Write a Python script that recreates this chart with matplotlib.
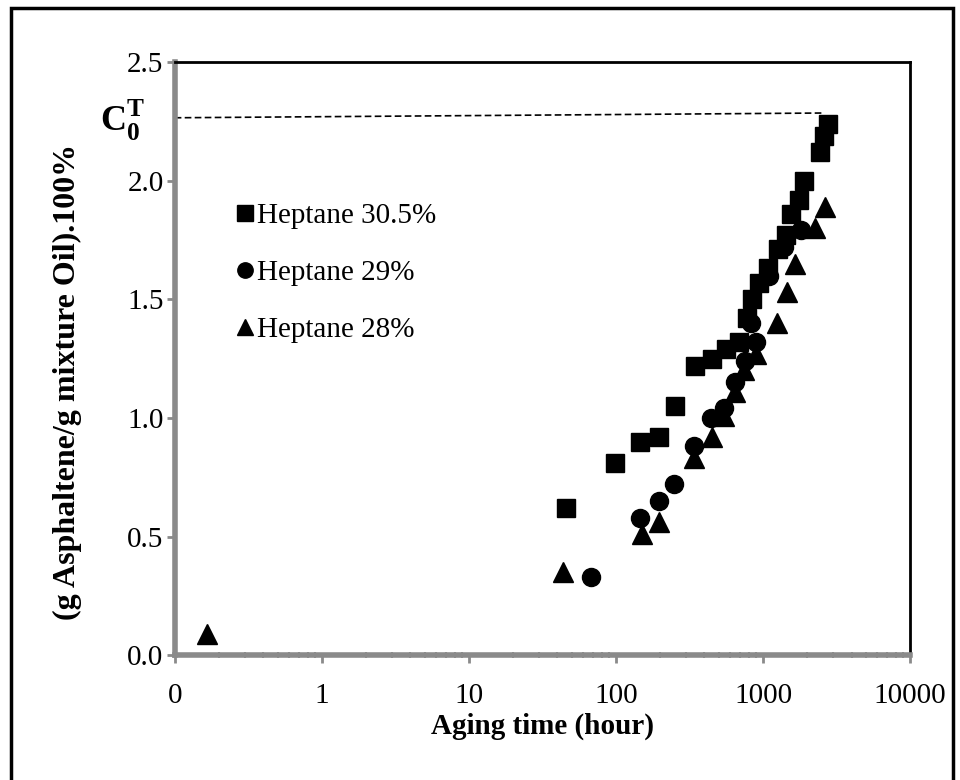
import numpy as np
import matplotlib.pyplot as plt
from matplotlib.patches import Rectangle
from matplotlib.ticker import FixedLocator, FixedFormatter, LogLocator, NullFormatter

plt.rcParams['font.family'] = ['Liberation Serif', 'DejaVu Serif']
plt.rcParams['mathtext.fontset'] = 'custom'
plt.rcParams['mathtext.rm'] = 'Liberation Serif'
plt.rcParams['mathtext.bf'] = 'Liberation Serif:bold'

# Heptane 30.5%
t_305 = [46, 98, 146, 196, 252, 345, 450, 560, 690, 780, 840, 940, 1080,
         1260, 1430, 1550, 1760, 1900, 2440, 2600, 2770]
c_305 = [0.62, 0.81, 0.90, 0.92, 1.05, 1.22, 1.25, 1.29, 1.32, 1.42, 1.50,
         1.57, 1.63, 1.71, 1.77, 1.86, 1.92, 2.00, 2.12, 2.19, 2.24]

# Heptane 29%
t_29 = [68, 146, 197, 250, 340, 440, 545, 645, 755, 900, 830, 1100, 1400, 1800]
c_29 = [0.33, 0.58, 0.65, 0.72, 0.88, 1.00, 1.04, 1.15, 1.24, 1.32, 1.40,
        1.60, 1.72, 1.79]

# Heptane 28%
t_28 = [0.165, 44, 150, 196, 340, 450, 540, 640, 740, 900, 1245, 1455,
        1650, 2260, 2630]
c_28 = [0.09, 0.35, 0.51, 0.56, 0.83, 0.92, 1.01, 1.11, 1.20, 1.27, 1.40,
        1.53, 1.65, 1.80, 1.89]

# C^T_0 reference line
ct0_t = [0.1, 2500]
ct0_c = [2.265, 2.285]

x_ticks = [0.1, 1, 10, 100, 1000, 10000]
x_labels = ['0', '1', '10', '100', '1000', '10000']
y_ticks = [0.0, 0.5, 1.0, 1.5, 2.0, 2.5]

fig = plt.figure(figsize=(9.6, 7.8), dpi=100)
ax = fig.add_axes([0.182, 0.160, 0.766, 0.7605])

ax.plot(ct0_t, ct0_c, color='black', ls='--', lw=1.2, dashes=(4, 2), clip_on=False)

ax.plot(t_28, c_28, '^', color='black', ms=14, label='Heptane 28%', zorder=3)
ax.plot(t_29, c_29, 'o', color='black', ms=13, label='Heptane 29%', zorder=4)
ax.plot(t_305, c_305, 's', color='black', ms=13, label='Heptane 30.5%', zorder=5)

ax.set_xscale('log')
ax.set_xlim(0.1, 10000)
ax.set_ylim(0, 2.5)
ax.xaxis.set_major_locator(FixedLocator(x_ticks))
ax.xaxis.set_major_formatter(FixedFormatter(x_labels))
ax.xaxis.set_minor_locator(LogLocator(base=10, subs=np.arange(2, 10)))
ax.xaxis.set_minor_formatter(NullFormatter())
ax.set_yticks(y_ticks)
ax.set_yticklabels([f'{v:.1f}' for v in y_ticks])

ax.tick_params(axis='both', which='major', labelsize=21, color='#8a8a8a',
               width=2, length=6, direction='out')
ax.tick_params(axis='x', which='major', pad=14)
ax.tick_params(axis='y', which='major', pad=2)
ax.tick_params(axis='x', which='minor', color='#8a8a8a', width=1.5, length=4,
               direction='inout')

for side in ['left', 'bottom']:
    ax.spines[side].set_color('#8a8a8a')
    ax.spines[side].set_linewidth(4)
for side in ['top', 'right']:
    ax.spines[side].set_color('black')
    ax.spines[side].set_linewidth(2)

ax.set_xlabel('Aging time (hour)', fontsize=21, fontweight='bold', labelpad=3)
ax.set_ylabel('(g Asphaltene/g mixture Oil).100%', fontsize=23,
              fontweight='bold')
ax.yaxis.set_label_coords(-0.126, 0.46)

ax.text(-0.04, 2.255, r'$\mathbf{C}^{\mathbf{T}}_{\mathbf{0}}$', fontsize=26,
        ha='right', va='center', transform=ax.get_yaxis_transform())

h, l = ax.get_legend_handles_labels()
ax.legend(h[::-1], l[::-1], loc='upper left', bbox_to_anchor=(0.068, 0.783),
          frameon=False, fontsize=21, handlelength=0.6, handletextpad=0.1,
          labelspacing=1.05, markerscale=0.85, borderaxespad=0)

fig.patches.append(Rectangle((0.011, -0.02), 0.982, 1.01, transform=fig.transFigure,
                             fill=False, edgecolor='black', linewidth=2.5))

fig.savefig('out.png', dpi=100)
